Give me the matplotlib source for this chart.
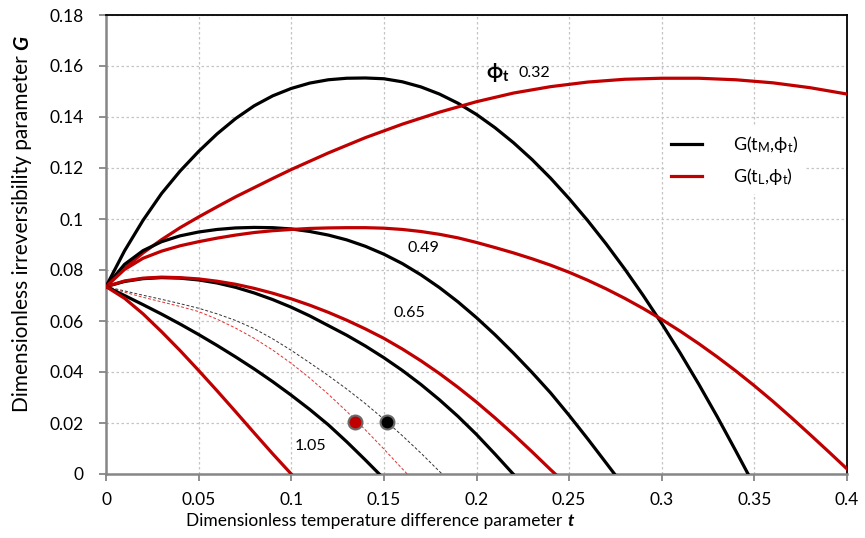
import numpy as np
import matplotlib
matplotlib.use('Agg')
import matplotlib.pyplot as plt
from matplotlib.ticker import MultipleLocator, FuncFormatter

plt.rcParams['font.family'] = ['Lato', 'DejaVu Sans']
plt.rcParams['mathtext.fontset'] = 'custom'
plt.rcParams['mathtext.rm'] = 'Lato'
plt.rcParams['mathtext.it'] = 'Lato:italic'
plt.rcParams['mathtext.bf'] = 'Lato:bold'

RED = '#c00000'

# G(t_M, phi_t) curves, one per phi_t
tM_032 = [0, 0.01, 0.02, 0.03, 0.04, 0.05, 0.06, 0.07, 0.08, 0.09, 0.10, 0.11, 0.12, 0.13, 0.14, 0.15, 0.16,
          0.17, 0.18, 0.19, 0.20, 0.21, 0.22, 0.23, 0.24, 0.25, 0.26, 0.27, 0.28, 0.29, 0.30, 0.31, 0.32, 0.33,
          0.34, 0.3466]
gM_032 = [0.0735, 0.0875, 0.0995, 0.1100, 0.1188, 0.1265, 0.1334, 0.1394, 0.1444, 0.1483, 0.1512, 0.1533,
          0.1546, 0.1552, 0.1553, 0.1550, 0.1538, 0.1518, 0.1490, 0.1454, 0.1410, 0.1358, 0.1299, 0.1233,
          0.1160, 0.1080, 0.0994, 0.0902, 0.0804, 0.0700, 0.0590, 0.0474, 0.0352, 0.0224, 0.0090, 0.0]
tM_049 = [0, 0.01, 0.02, 0.03, 0.04, 0.05, 0.06, 0.07, 0.08, 0.09, 0.10, 0.11, 0.12, 0.13, 0.14, 0.15, 0.16,
          0.17, 0.18, 0.19, 0.20, 0.21, 0.22, 0.23, 0.24, 0.25, 0.26, 0.27, 0.2745]
gM_049 = [0.0735, 0.0822, 0.0876, 0.0911, 0.0934, 0.0949, 0.0959, 0.0965, 0.0967, 0.0966, 0.0961, 0.0951,
          0.0937, 0.0918, 0.0893, 0.0862, 0.0825, 0.0781, 0.0731, 0.0675, 0.0613, 0.0546, 0.0474, 0.0398,
          0.0318, 0.0230, 0.0138, 0.0043, 0.0]
tM_065 = [0, 0.01, 0.02, 0.03, 0.04, 0.05, 0.06, 0.07, 0.08, 0.09, 0.10, 0.11, 0.12, 0.13, 0.14, 0.15, 0.16,
          0.17, 0.18, 0.19, 0.20, 0.21, 0.2198]
gM_065 = [0.0735, 0.0755, 0.0766, 0.0770, 0.0768, 0.0761, 0.0749, 0.0732, 0.0710, 0.0684, 0.0654, 0.0620,
          0.0582, 0.0544, 0.0502, 0.0456, 0.0406, 0.0351, 0.0291, 0.0226, 0.0155, 0.0078, 0.0]
tM_080 = [0, 0.01, 0.02, 0.03, 0.04, 0.05, 0.06, 0.07, 0.08, 0.09, 0.10, 0.11, 0.12, 0.13, 0.14, 0.15, 0.16,
          0.17, 0.18, 0.1815]
gM_080 = [0.0735, 0.0718, 0.0701, 0.0685, 0.0668, 0.0650, 0.0628, 0.0602, 0.0570, 0.0530, 0.0485, 0.0436,
          0.0386, 0.0333, 0.0276, 0.0215, 0.0150, 0.0082, 0.0010, 0.0]
tM_105 = [0, 0.01, 0.02, 0.03, 0.04, 0.05, 0.06, 0.07, 0.08, 0.09, 0.10, 0.11, 0.12, 0.13, 0.14, 0.1475]
gM_105 = [0.0735, 0.0700, 0.0664, 0.0627, 0.0588, 0.0547, 0.0504, 0.0459, 0.0412, 0.0362, 0.0309, 0.0253,
          0.0193, 0.0126, 0.0055, 0.0]

# G(t_L, phi_t) curves
tL_032 = [0, 0.01, 0.02, 0.03, 0.04, 0.05, 0.06, 0.07, 0.08, 0.09, 0.10, 0.12, 0.14, 0.16, 0.18, 0.20, 0.22,
          0.24, 0.26, 0.28, 0.30, 0.32, 0.34, 0.36, 0.38, 0.40]
gL_032 = [0.0735, 0.0807, 0.0867, 0.0919, 0.0966, 0.1008, 0.1048, 0.1087, 0.1123, 0.1159, 0.1194, 0.1259,
          0.1319, 0.1372, 0.1419, 0.1460, 0.1494, 0.1519, 0.1537, 0.1548, 0.1552, 0.1552, 0.1546, 0.1534,
          0.1515, 0.1490]
tL_049 = [0, 0.01, 0.02, 0.03, 0.04, 0.05, 0.06, 0.07, 0.08, 0.09, 0.10, 0.11, 0.12, 0.13, 0.14, 0.15, 0.16,
          0.17, 0.18, 0.19, 0.20, 0.21, 0.22, 0.23, 0.24, 0.25, 0.26, 0.27, 0.28, 0.29, 0.30, 0.31, 0.32, 0.33,
          0.34, 0.35, 0.36, 0.37, 0.38, 0.39, 0.40]
gL_049 = [0.0735, 0.0802, 0.0846, 0.0874, 0.0895, 0.0911, 0.0925, 0.0937, 0.0947, 0.0954, 0.0959, 0.0963,
          0.0965, 0.0966, 0.0966, 0.0964, 0.0959, 0.0951, 0.0940, 0.0926, 0.0908, 0.0888, 0.0867, 0.0844,
          0.0819, 0.0791, 0.0760, 0.0726, 0.0689, 0.0649, 0.0606, 0.0560, 0.0511, 0.0459, 0.0404, 0.0346,
          0.0285, 0.0221, 0.0155, 0.0088, 0.0020]
tL_065 = [0, 0.01, 0.02, 0.03, 0.04, 0.05, 0.06, 0.07, 0.08, 0.09, 0.10, 0.11, 0.12, 0.13, 0.14, 0.15, 0.16,
          0.17, 0.18, 0.19, 0.20, 0.21, 0.22, 0.23, 0.24, 0.2425]
gL_065 = [0.0735, 0.0757, 0.0768, 0.0772, 0.0770, 0.0765, 0.0756, 0.0744, 0.0728, 0.0709, 0.0687, 0.0662,
          0.0634, 0.0603, 0.0569, 0.0532, 0.0490, 0.0444, 0.0394, 0.0340, 0.0282, 0.0220, 0.0155, 0.0087,
          0.0017, 0.0]
tL_080 = [0, 0.01, 0.02, 0.03, 0.04, 0.05, 0.06, 0.07, 0.08, 0.09, 0.10, 0.11, 0.12, 0.13, 0.14, 0.15, 0.16,
          0.1626]
gL_080 = [0.0735, 0.0713, 0.0693, 0.0675, 0.0657, 0.0637, 0.0607, 0.0572, 0.0532, 0.0486, 0.0434, 0.0376,
          0.0313, 0.0245, 0.0173, 0.0098, 0.0020, 0.0]
tL_105 = [0, 0.01, 0.02, 0.03, 0.04, 0.05, 0.06, 0.07, 0.08, 0.09, 0.10]
gL_105 = [0.0735, 0.0689, 0.0628, 0.0558, 0.0484, 0.0406, 0.0326, 0.0244, 0.0161, 0.0079, 0.0]

# points marked on the dashed curves
pt_t = [0.1345, 0.1515]
pt_g = [0.0205, 0.0205]

fig = plt.figure(figsize=(8.65, 5.38), dpi=100)
ax = fig.add_axes([106 / 865, 64 / 538, 741 / 865, 459 / 538])

lw = 2.3
ax.plot(tM_032, gM_032, color='black', lw=lw, label=r'G(t$_\mathregular{M}$,ϕ$_\mathregular{t}$)', zorder=4)
ax.plot(tL_032, gL_032, color=RED, lw=lw, label=r'G(t$_\mathregular{L}$,ϕ$_\mathregular{t}$)', zorder=4)
ax.plot(tM_049, gM_049, color='black', lw=lw, zorder=4)
ax.plot(tL_049, gL_049, color=RED, lw=lw, zorder=4)
ax.plot(tM_065, gM_065, color='black', lw=lw, zorder=4)
ax.plot(tL_065, gL_065, color=RED, lw=lw, zorder=4)
ax.plot(tM_105, gM_105, color='black', lw=lw, zorder=4)
ax.plot(tL_105, gL_105, color=RED, lw=lw, zorder=4)
ax.plot(tM_080, gM_080, color='#333333', lw=0.7, ls=(0, (3, 2)), zorder=3)
ax.plot(tL_080, gL_080, color='#e03030', lw=0.7, ls=(0, (3, 2)), zorder=3)

ax.plot(pt_t[0], pt_g[0], 'o', ms=10, mfc=RED, mec='#6a6a6a', mew=1.5, zorder=5)
ax.plot(pt_t[1], pt_g[1], 'o', ms=10, mfc='black', mec='#6a6a6a', mew=1.5, zorder=5)

# curve labels
ax.text(0.2050, 0.1573, r'$\mathbf{\phi_t}$', fontsize=15, va='center', ha='left')
ax.text(0.2225, 0.1573, '0.32', fontsize=11.5, va='center', ha='left')
ax.text(0.163, 0.0885, '0.49', fontsize=11.5, va='center', ha='left')
ax.text(0.155, 0.0630, '0.65', fontsize=11.5, va='center', ha='left')
ax.text(0.102, 0.0110, '1.05', fontsize=11.5, va='center', ha='left')

ax.set_xlim(0, 0.4)
ax.set_ylim(0, 0.18)
ax.xaxis.set_major_locator(MultipleLocator(0.05))
ax.yaxis.set_major_locator(MultipleLocator(0.02))
fmt = FuncFormatter(lambda v, p: '%g' % round(v, 3))
ax.xaxis.set_major_formatter(fmt)
ax.yaxis.set_major_formatter(fmt)
ax.grid(True, ls=(0, (2, 2)), color='#c4c4c4', lw=0.9, zorder=0)
ax.set_axisbelow(True)

for s in ['left', 'bottom']:
    ax.spines[s].set_color('#868686')
    ax.spines[s].set_linewidth(1.8)
for s in ['top', 'right']:
    ax.spines[s].set_color('black')
    ax.spines[s].set_linewidth(1.3)
ax.tick_params(axis='both', direction='out', length=5, width=1.3, color='#868686', labelsize=12.5)
ax.tick_params(axis='x', pad=8)
ax.tick_params(axis='y', pad=11)

leg = ax.legend(loc='upper left', bbox_to_anchor=(664 / 865, 1 - 127 / 538), bbox_transform=fig.transFigure,
                frameon=True, fancybox=False, edgecolor='none', facecolor='white', framealpha=1,
                fontsize=13, handlelength=1.7, handletextpad=1.7, labelspacing=0.6, borderpad=0.4,
                borderaxespad=0)

# axis titles with the bold italic variable appended
renderer = fig.canvas.get_renderer()
xl = fig.text(186 / 865, 1 - 521 / 538, 'Dimensionless temperature difference parameter', fontsize=12.5,
              ha='left', va='center')
bb = xl.get_window_extent(renderer)
fig.text((bb.x1 + 5) / 865, 1 - 521 / 538, 't', fontsize=12.5, style='italic', weight='bold',
         ha='left', va='center')
yl = fig.text(22 / 865, 126 / 538, 'Dimensionless irreversibility parameter', fontsize=15,
              rotation=90, ha='center', va='bottom')
bb = yl.get_window_extent(renderer)
fig.text(22 / 865, (bb.y1 + 5) / 538, 'G', fontsize=15, style='italic', weight='bold', rotation=90,
         ha='center', va='bottom')

fig.savefig('out.png', dpi=100)
